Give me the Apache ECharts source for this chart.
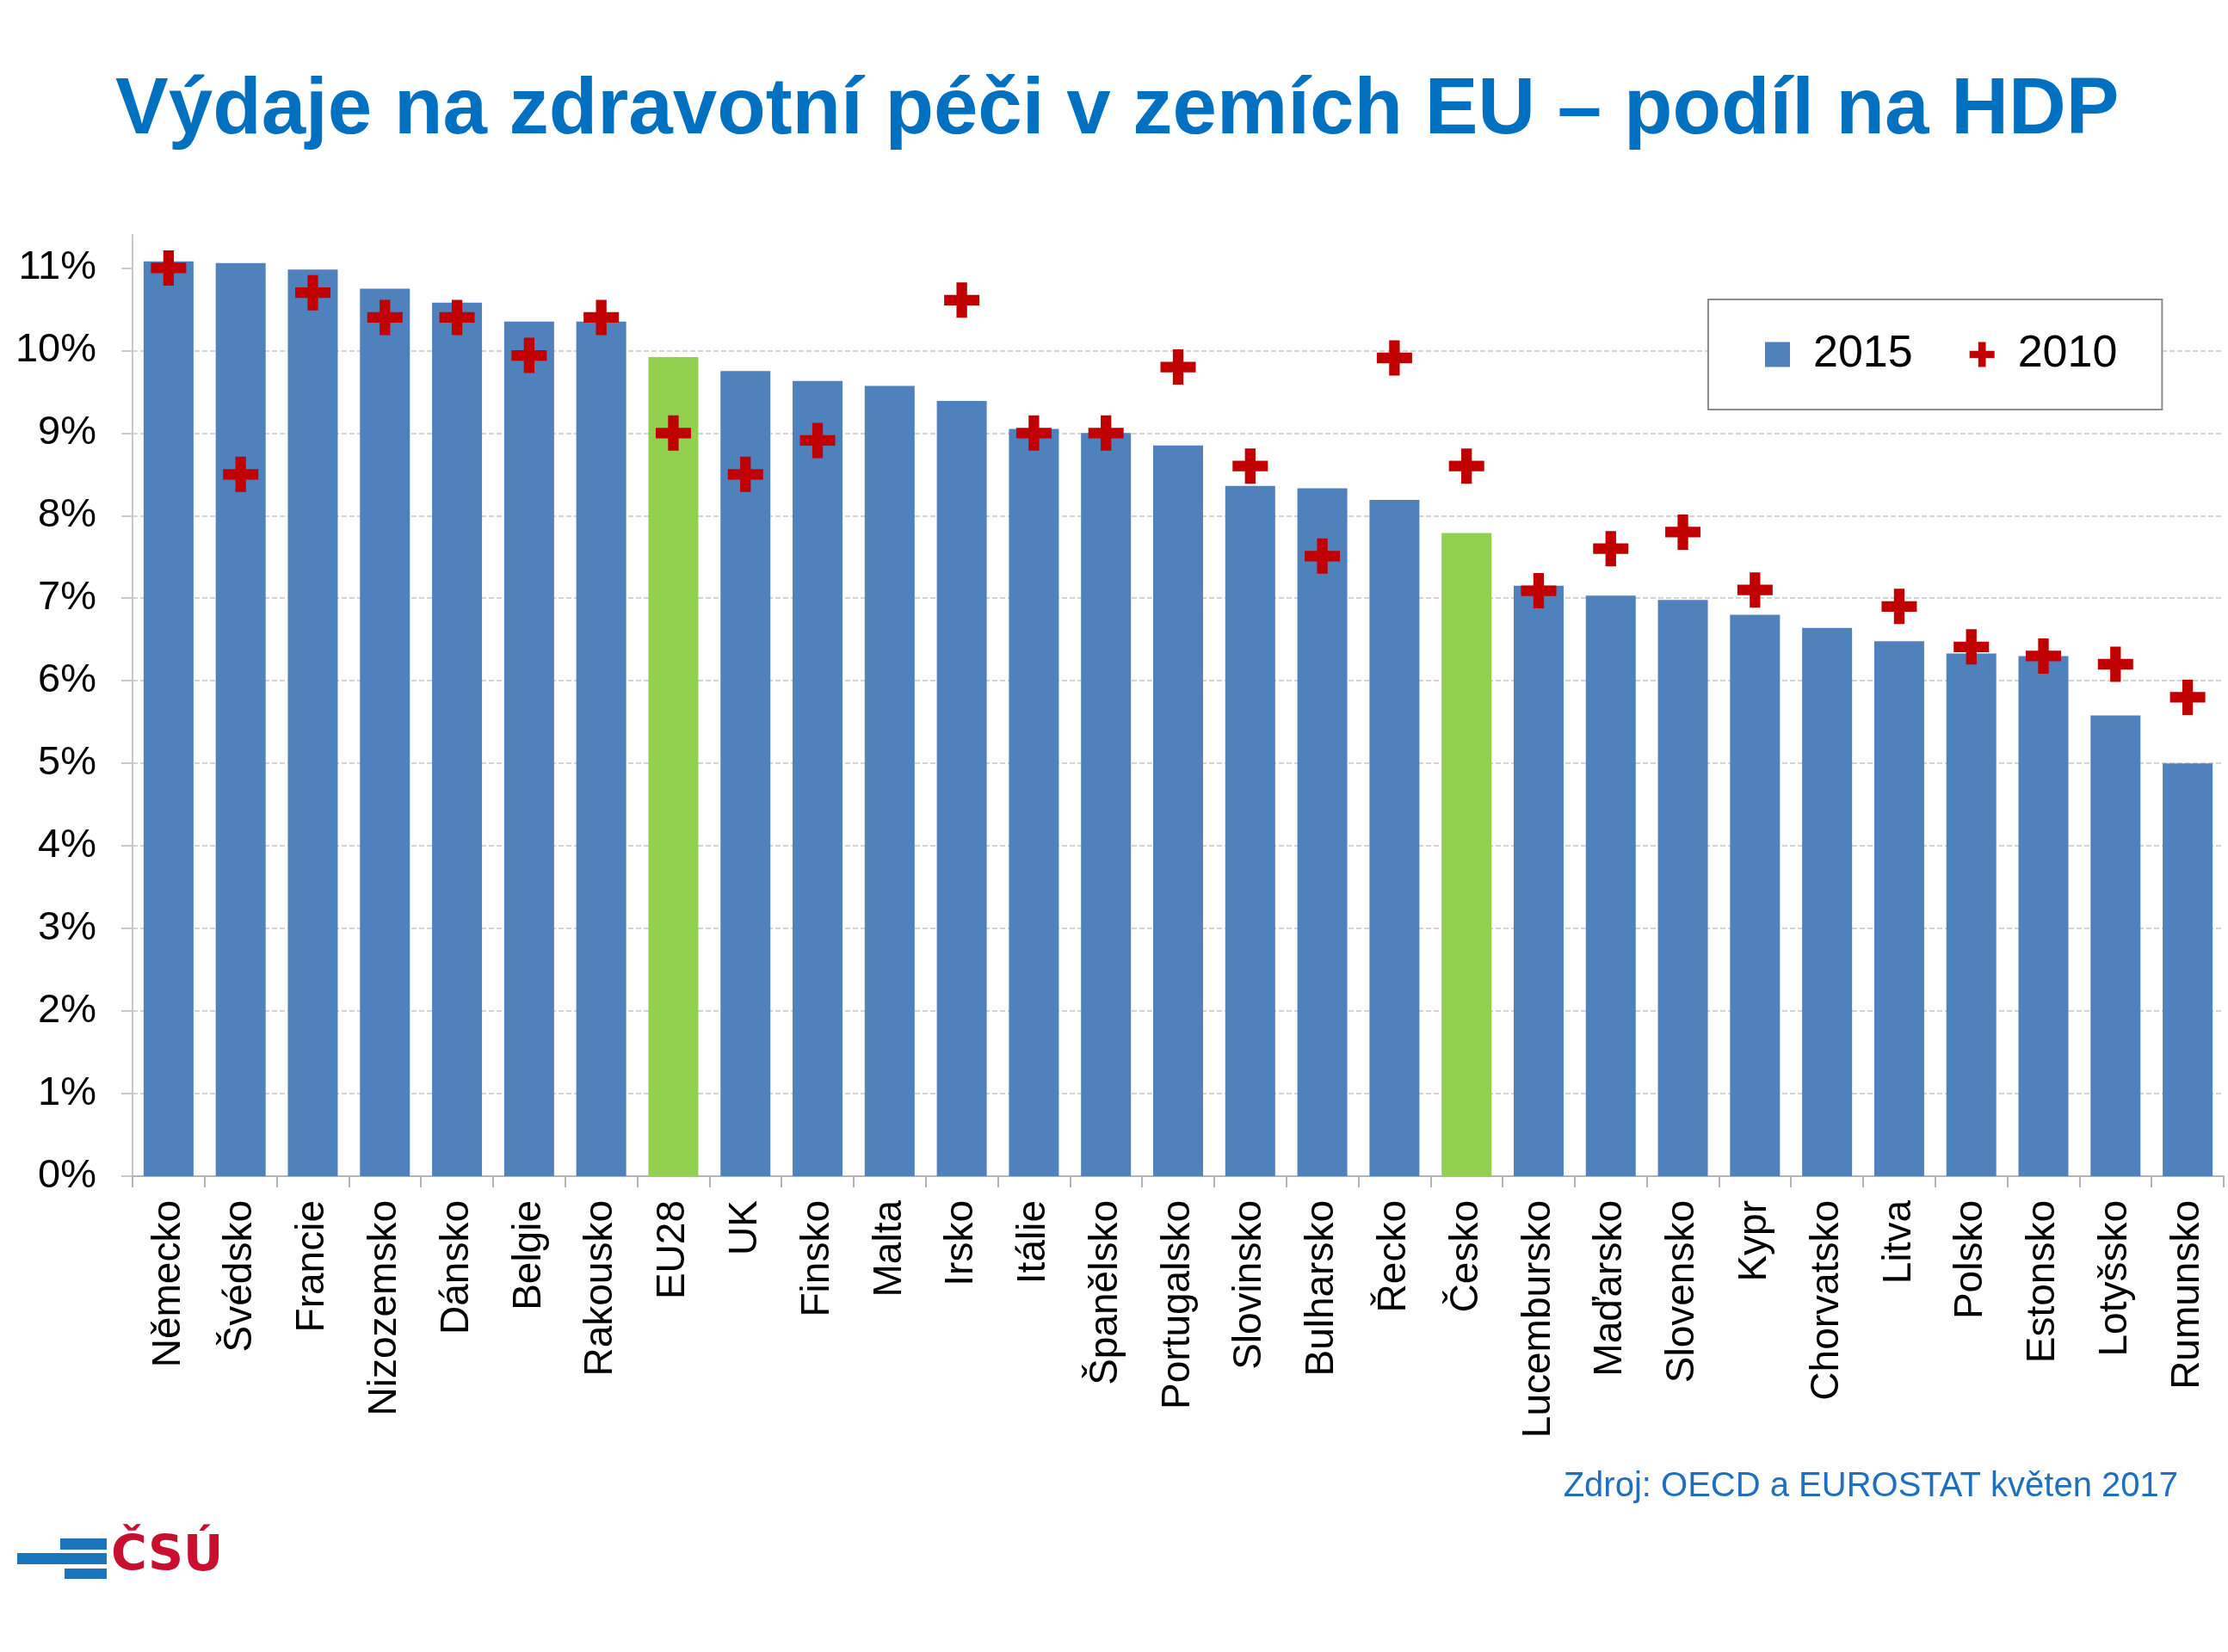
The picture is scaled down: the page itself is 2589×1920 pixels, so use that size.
<!DOCTYPE html>
<html>
<head>
<meta charset="utf-8">
<title>Výdaje na zdravotní péči v zemích EU</title>
<script src="https://cdn.jsdelivr.net/npm/echarts@6/dist/echarts.min.js"></script>
<style>
  html, body { margin: 0; padding: 0; background: #fff; }
  #chart { width: 2589px; height: 1920px; }
</style>
</head>
<body>
<div id="chart"></div>
<script>
  // data (share of GDP, %)
  const categories = ['Německo', 'Švédsko', 'Francie', 'Nizozemsko', 'Dánsko', 'Belgie', 'Rakousko', 'EU28', 'UK',
    'Finsko', 'Malta', 'Irsko', 'Itálie', 'Španělsko', 'Portugalsko', 'Slovinsko', 'Bulharsko', 'Řecko', 'Česko',
    'Lucembursko', 'Maďarsko', 'Slovensko', 'Kypr', 'Chorvatsko', 'Litva', 'Polsko', 'Estonsko', 'Lotyšsko', 'Rumunsko']
  const values2015 = [11.08, 11.06, 10.98, 10.75, 10.58, 10.35, 10.35, 9.92, 9.75, 9.63, 9.57, 9.39, 9.05, 9.0, 8.85,
    8.36, 8.33, 8.19, 7.79, 7.15, 7.03, 6.98, 6.8, 6.64, 6.48, 6.33, 6.3, 5.58, 5.0]
  const values2010 = [11.0, 8.5, 10.7, 10.4, 10.4, 9.94, 10.4, 9.0, 8.5, 8.91, null, 10.61, 9.0, 9.0, 9.8, 8.6, 7.51,
    9.91, 8.6, 7.09, 7.6, 7.8, 7.1, null, 6.9, 6.41, 6.3, 6.2, 5.8]
  const highlighted = ['EU28', 'Česko']
  const yTicks = [0, 1, 2, 3, 4, 5, 6, 7, 8, 9, 10, 11]

  const font = "'Liberation Sans', Arial, sans-serif"
  const blue = '#4f81bd'
  const green = '#92d050'
  const red = '#c00000'
  const cross = 'path://M3.5,0H6.5V3.5H10V6.5H6.5V10H3.5V6.5H0V3.5H3.5Z'

  const barData = values2015.map((v, i) =>
    highlighted.includes(categories[i]) ? {value: v, itemStyle: {color: green}} : v)

  const option = {
    backgroundColor: '#fff',
    animation: false,
    title: {
      text: 'Výdaje na zdravotní péči v zemích EU – podíl na HDP',
      left: 129,
      top: 78,
      textStyle: {color: '#0070c0', fontSize: 92.5, fontWeight: 'bold', fontFamily: font}
    },
    legend: {
      left: 1985,
      top: 348,
      orient: 'horizontal',
      padding: [38, 52, 38, 66],
      itemWidth: 29,
      itemHeight: 29,
      itemGap: 66,
      backgroundColor: '#fff',
      borderColor: '#8c8c8c',
      borderWidth: 2,
      textStyle: {color: '#000', fontSize: 52, fontFamily: font, padding: [0, 0, 0, 22]},
      data: [{name: '2015', icon: 'rect', itemStyle: {color: blue}}, {name: '2010', icon: cross}]
    },
    grid: {left: 154, right: 5, top: 273, bottom: 553, containLabel: false},
    xAxis: {
      type: 'category',
      data: categories,
      axisLine: {show: true, lineStyle: {color: '#b4b4b4', width: 2}},
      axisTick: {show: true, alignWithLabel: false, length: 13, lineStyle: {color: '#b4b4b4', width: 2}},
      axisLabel: {interval: 0, rotate: 90, margin: 28, color: '#000', fontSize: 46, fontFamily: font}
    },
    yAxis: {
      type: 'value',
      min: 0,
      max: 11.4,
      interval: 1,
      axisLine: {show: true, lineStyle: {color: '#c8c8c8', width: 2}},
      axisTick: {show: true, length: 13, customValues: yTicks, lineStyle: {color: '#c8c8c8', width: 2}},
      axisLabel: {
        margin: 42,
        customValues: yTicks,
        color: '#000',
        fontSize: 47,
        fontFamily: font,
        formatter: v => v + '%'
      },
      splitLine: {show: true, showMaxLine: false, lineStyle: {color: '#d4d4d4', width: 2, type: [6, 3]}}
    },
    series: [
      {
        name: '2015',
        type: 'bar',
        data: barData,
        barWidth: 58,
        color: blue,
        itemStyle: {color: blue}
      },
      {
        name: '2010',
        type: 'scatter',
        data: values2010,
        symbol: cross,
        symbolSize: 41,
        color: red,
        itemStyle: {color: red, opacity: 1}
      }
    ],
    graphic: [
      {
        type: 'text', right: 58, top: 1708,
        style: {text: 'Zdroj: OECD a EUROSTAT květen 2017', fill: '#1f6fc0', fontSize: 40, fontFamily: font}
      },
      {type: 'rect', left: 70, top: 1788, shape: {width: 54, height: 13}, style: {fill: '#1b75bc'}},
      {type: 'rect', left: 20, top: 1805, shape: {width: 104, height: 13}, style: {fill: '#1b75bc'}},
      {type: 'rect', left: 75, top: 1823, shape: {width: 49, height: 12}, style: {fill: '#1b75bc'}},
      {
        type: 'text', left: 129, top: 1782,
        style: {text: 'ČSÚ', fill: '#c8102e', fontSize: 57, fontWeight: 'bold', fontFamily: "'DejaVu Sans', " + font}
      }
    ]
  }

  const myChart = echarts.init(document.getElementById('chart'))
  myChart.setOption(option)
</script>
</body>
</html>
